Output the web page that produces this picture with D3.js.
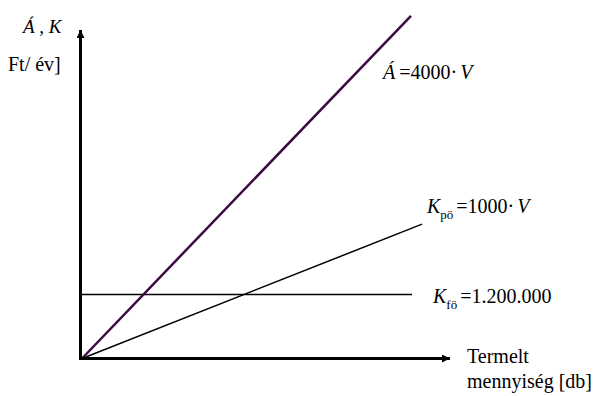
<!DOCTYPE html>
<html lang="hu"><head><meta charset="utf-8">
<script src="https://cdn.jsdelivr.net/npm/d3@7"></script>
<style>
body{margin:0;background:#fff;font-family:"Liberation Serif",serif}
svg{display:block}
svg text, svg tspan, .lbl{font-family:"Liberation Serif",serif !important}
</style>
</head><body><div id="wrap" style="position:relative;width:595px;height:396px"><svg id="c" width="595" height="396"></svg></div>
<script>
// schematic values (abstract units: V on x, Ft/év on y)
const revenueLine = [[0, 0], [89.4, 104.3]];   // Á = 4000·V
const variableCost = [[0, 0], [92.4, 40.9]];   // K_pö = 1000·V
const fixedCost = [[0, 19.5], [89.7, 19.5]];   // K_fö = 1.200.000
const xAxisLabel = ["Termelt", "mennyiség [db]"];
const yAxisLabel = ["Á , K", "Ft/ év]"];

const svg = d3.select("#c");
const x = d3.scaleLinear().domain([0, 100]).range([82, 450]);
const y = d3.scaleLinear().domain([0, 100]).range([358.5, 30]);

const defs = svg.append("defs");
defs.append("marker").attr("id", "arr").attr("viewBox", "0 0 10 10")
  .attr("refX", 10).attr("refY", 5).attr("markerWidth", 10).attr("markerHeight", 8)
  .attr("markerUnits", "userSpaceOnUse").attr("orient", "auto")
  .append("path").attr("d", "M0,0L10,5L0,10z").attr("fill", "#000");

const line = d3.line().x(d => x(d[0])).y(d => y(d[1]));

svg.append("path").datum(fixedCost).attr("d", line).attr("stroke", "#000").attr("stroke-width", 1.5).attr("fill", "none");
svg.append("path").datum(variableCost).attr("d", line).attr("stroke", "#000").attr("stroke-width", 1.5).attr("fill", "none");
svg.append("path").datum(revenueLine).attr("d", line).attr("stroke", "#3a0a40").attr("stroke-width", 2.5).attr("fill", "none");

// axes
svg.append("line").attr("x1", x(0) - 1.5).attr("x2", x(0) - 1.5).attr("y1", y(0) + 1.5).attr("y2", y(100))
  .attr("stroke", "#000").attr("stroke-width", 3).attr("marker-end", "url(#arr)");
svg.append("line").attr("x1", x(0) - 3).attr("x2", x(100)).attr("y1", y(0)).attr("y2", y(0))
  .attr("stroke", "#000").attr("stroke-width", 3).attr("marker-end", "url(#arr)");

function txt(xp, yp, size, s) {
  return svg.append("text").attr("x", xp).attr("y", yp)
    .attr("font-family", "Liberation Serif").attr("font-size", size).text(s);
}
// y-axis labels
txt(23, 33, 19, yAxisLabel[0]).attr("font-style", "italic");
txt(8, 71, 20, yAxisLabel[1]);

// x-axis label (two lines)
txt(467, 363, 20, xAxisLabel[0]);
txt(467, 388, 20, xAxisLabel[1]);

function eq(xp, yp, parts) {
  const t = txt(xp, yp, 20, null);
  parts.forEach(p => {
    const s = t.append("tspan").text(p.t);
    if (p.i) s.attr("font-style", "italic");
    if (p.sub) s.attr("font-size", 13).attr("dy", 6);
    if (p.up) s.attr("dy", -6);
    if (p.dx) s.attr("dx", p.dx);
  });
}
eq(383, 79, [{t: "Á", i: 1}, {t: "=4000·", dx: 4}, {t: "V", i: 1, dx: 3}]);
eq(427, 213, [{t: "K", i: 1}, {t: "pö", sub: 1}, {t: "=1000·", up: 1, dx: 3}, {t: "V", i: 1, dx: 3}]);
eq(433, 303, [{t: "K", i: 1}, {t: "fö", sub: 1}, {t: "=1.200.000", up: 1, dx: 3}]);
</script></body></html>
